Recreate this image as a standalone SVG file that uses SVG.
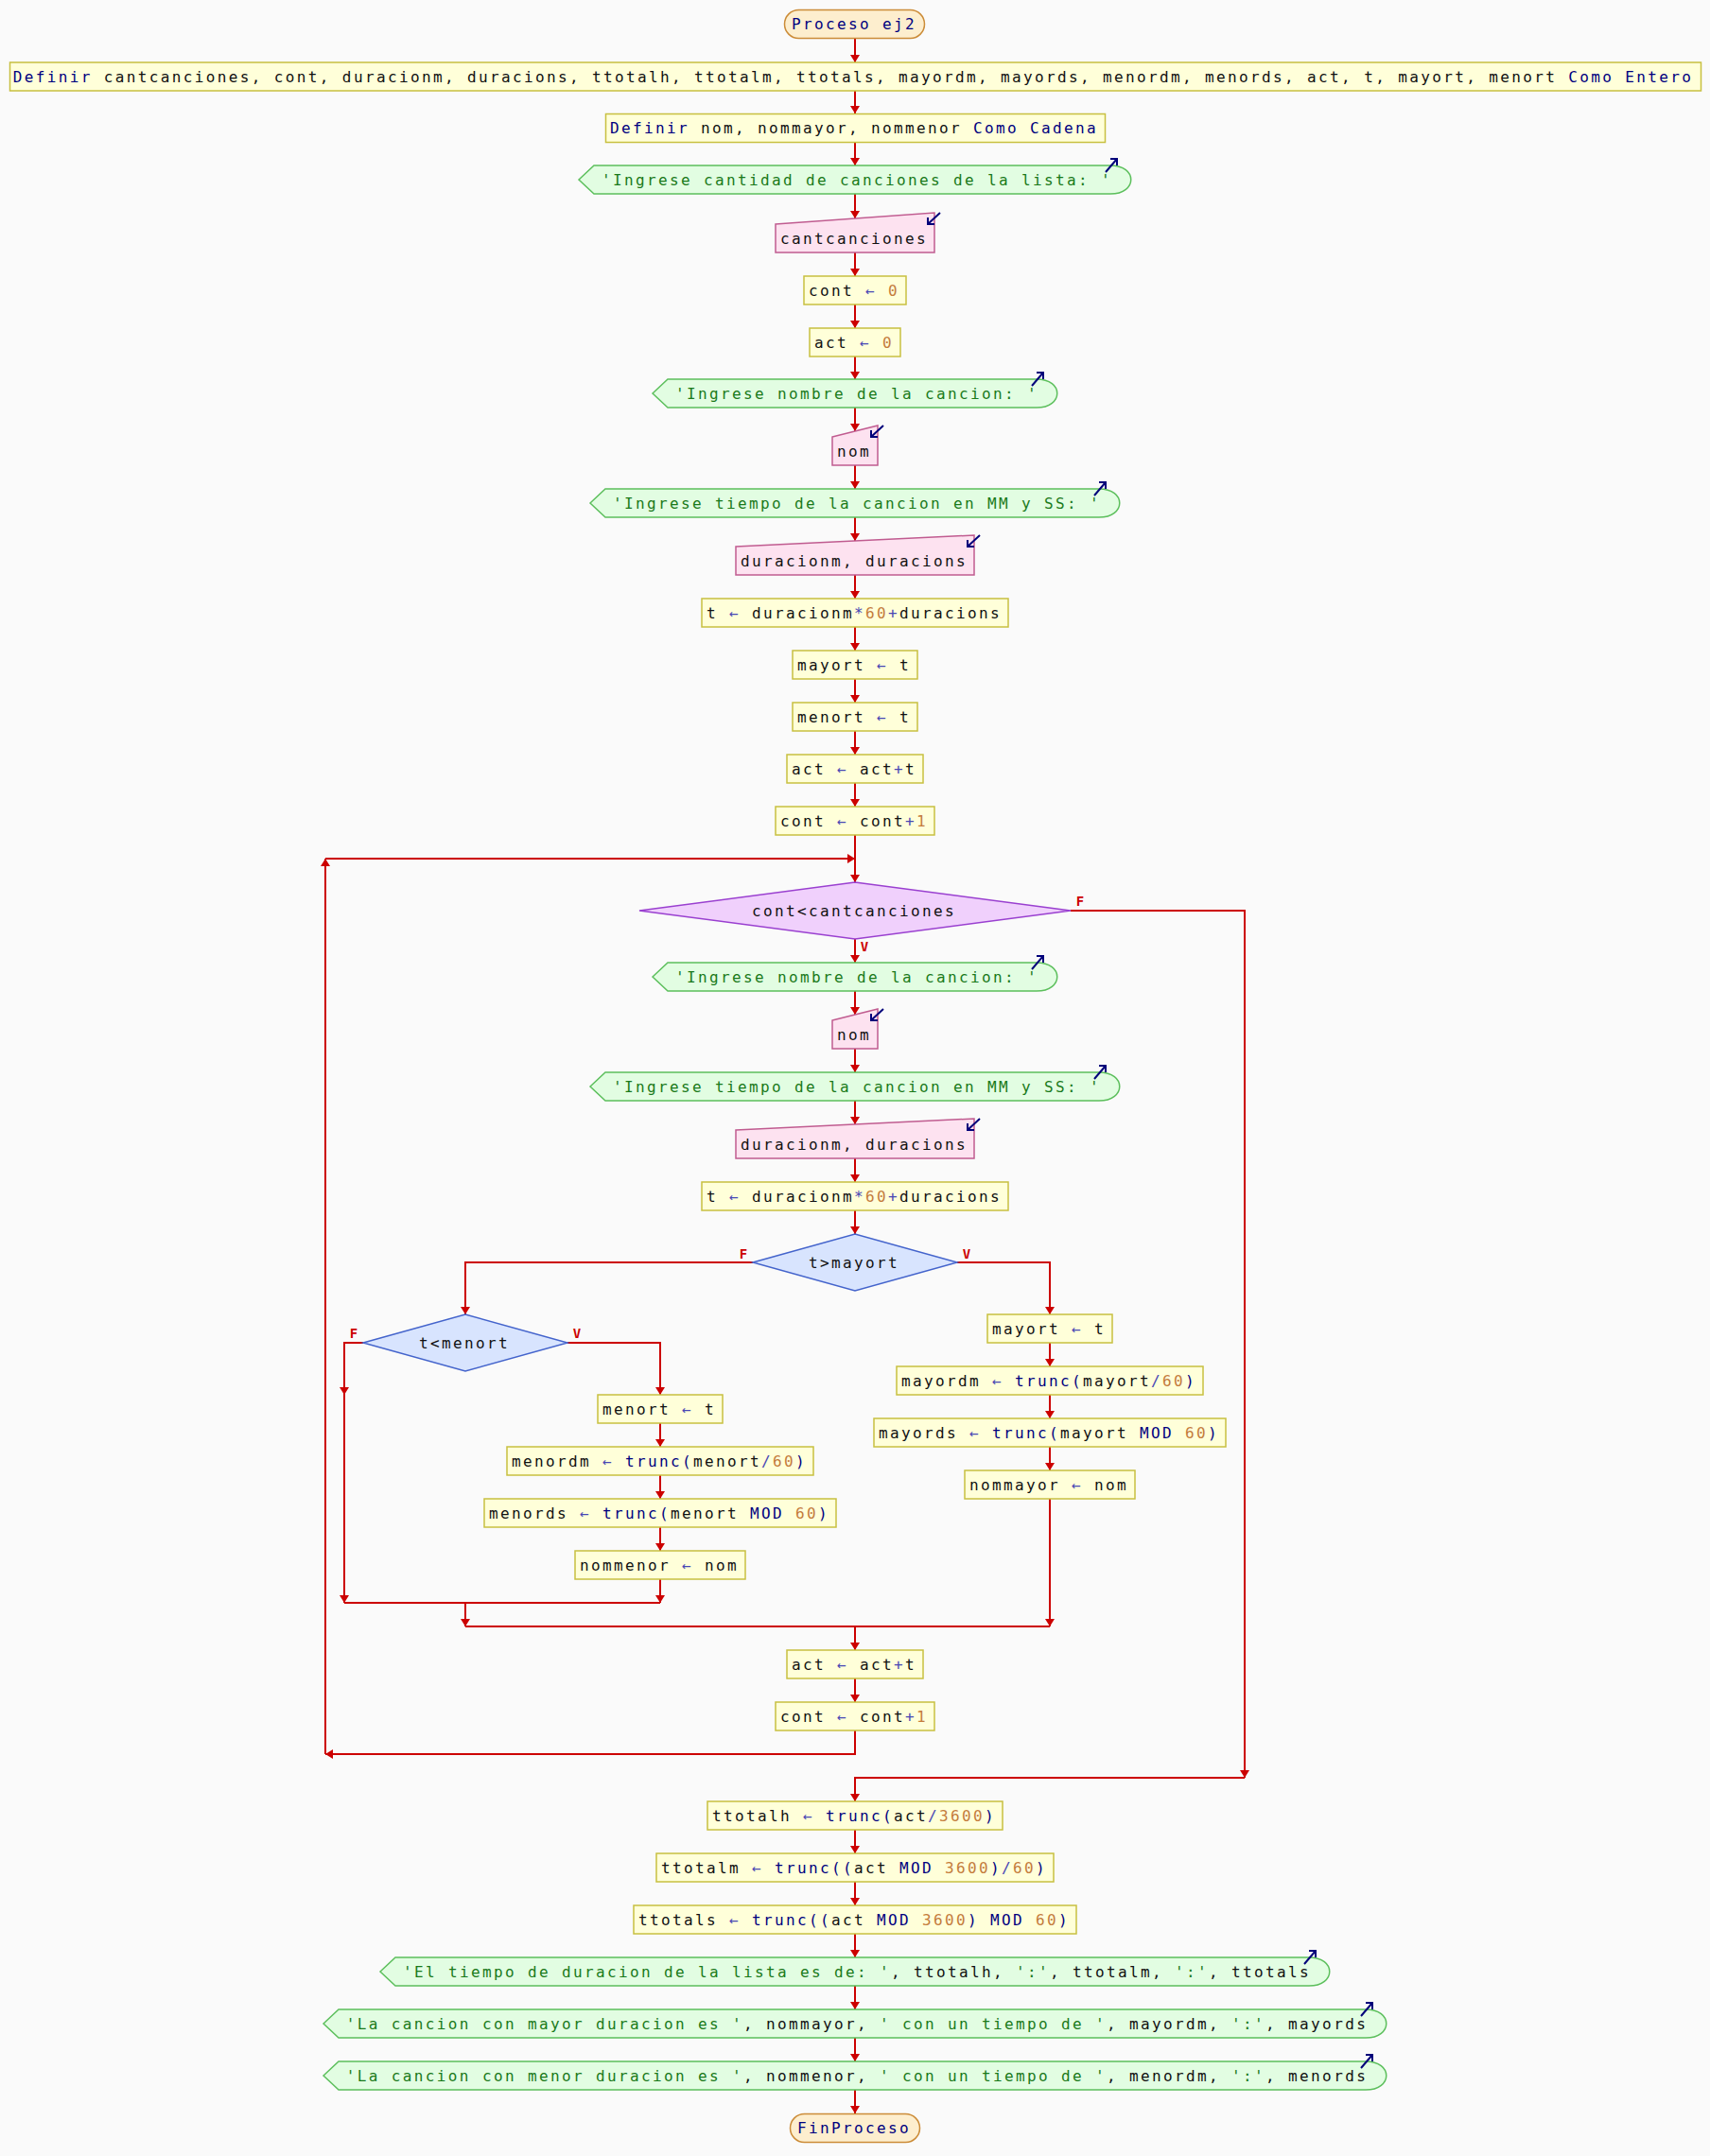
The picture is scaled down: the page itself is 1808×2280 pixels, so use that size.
<svg xmlns="http://www.w3.org/2000/svg" width="1808" height="2280" viewBox="0 0 1808 2280">
<defs>
<style>
.bg{fill:#fafafa}
.t{font-family:"DejaVu Sans Mono","Liberation Mono",monospace;font-size:16px;letter-spacing:2.37px;text-anchor:middle;fill:#111}
.k{fill:#00007f}
.o{fill:#4848b4}
.n{fill:#c47c3c}
.s{fill:#1a7a1a}
.proc{fill:#ffffd9;stroke:#c8c040;stroke-width:1.5}
.out{fill:#e2fde2;stroke:#5cbf5c;stroke-width:1.5}
.inp{fill:#fde2f0;stroke:#c05c90;stroke-width:1.5}
.loop{fill:#f0d0fc;stroke:#9a40d0;stroke-width:1.5}
.cond{fill:#d8e4fe;stroke:#4464cc;stroke-width:1.5}
.term{fill:#fdeece;stroke:#cc8c38;stroke-width:1.5}
.ln{fill:none;stroke:#cc0000;stroke-width:2}
.ic{fill:none;stroke:#00007a;stroke-width:2}
.lb{font-family:"DejaVu Sans Mono","Liberation Mono",monospace;font-size:14px;font-weight:bold;text-anchor:middle;fill:#cc0000}
</style>
<marker id="ah" viewBox="0 0 8 10" refX="8" refY="5" markerWidth="8" markerHeight="10" markerUnits="userSpaceOnUse" orient="auto">
<path d="M0,0 L8,5 L0,10 z" fill="#cc0000"/>
</marker>
</defs>
<rect class="bg" x="0" y="0" width="1808" height="2280"/>

<!-- connectors -->
<g id="connectors" class="ln" marker-end="url(#ah)">
<path d="M904,41 V66"/>
<path d="M904,96 V120"/>
<path d="M904,150 V175"/>
<path d="M904,205 V231"/>
<path d="M904,267 V292"/>
<path d="M904,322 V347"/>
<path d="M904,377 V401"/>
<path d="M904,431 V456"/>
<path d="M904,492 V517"/>
<path d="M904,547 V572"/>
<path d="M904,608 V633"/>
<path d="M904,663 V688"/>
<path d="M904,718 V743"/>
<path d="M904,773 V798"/>
<path d="M904,828 V853"/>
<path d="M904,883 V933"/>
<path d="M904,993 V1018"/>
<path d="M904,1048 V1073"/>
<path d="M904,1109 V1134"/>
<path d="M904,1164 V1189"/>
<path d="M904,1225 V1250"/>
<path d="M904,1280 V1305"/>
<path d="M1012,1335 H1110 V1390"/>
<path d="M1110,1420 V1445"/>
<path d="M1110,1475 V1500"/>
<path d="M1110,1530 V1555"/>
<path d="M1110,1585 V1720"/>
<path d="M796,1335 H492 V1390"/>
<path d="M600,1420 H698 V1475"/>
<path d="M698,1505 V1530"/>
<path d="M698,1560 V1585"/>
<path d="M698,1615 V1640"/>
<path d="M698,1670 V1695"/>
<path d="M384,1420 H364 V1475"/>
<path d="M364,1475 V1695"/>
<path d="M364,1695 H698" marker-end="none"/>
<path d="M492,1695 V1720"/>
<path d="M492,1720 H1110" marker-end="none"/>
<path d="M904,1720 V1745"/>
<path d="M904,1775 V1800"/>
<path d="M904,1830 V1855 H344"/>
<path d="M344,1855 V908"/>
<path d="M344,908 H904"/>
<path d="M1132,963 H1316 V1880"/>
<path d="M1316,1880 H904 V1905"/>
<path d="M904,1935 V1960"/>
<path d="M904,1990 V2015"/>
<path d="M904,2045 V2070"/>
<path d="M904,2100 V2125"/>
<path d="M904,2155 V2180"/>
<path d="M904,2210 V2235"/>
</g>
<g id="branch-labels">
<text class="lb" x="1142" y="958">F</text>
<text class="lb" x="914" y="1006">V</text>
<text class="lb" x="786" y="1331">F</text>
<text class="lb" x="1022" y="1331">V</text>
<text class="lb" x="374" y="1415">F</text>
<text class="lb" x="610" y="1415">V</text>
</g>

<!-- nodes -->
<g id="inicio">
<rect class="term" x="829.5" y="10.5" width="148" height="30" rx="15"/>
<text class="t k" x="903" y="31">Proceso ej2</text>
</g>
<g id="definir1">
<rect class="proc" x="10.5" y="66" width="1788" height="30"/>
<text class="t" x="902" y="86.5"><tspan class="k">Definir</tspan> cantcanciones, cont, duracionm, duracions, ttotalh, ttotalm, ttotals, mayordm, mayords, menordm, menords, act, t, mayort, menort <tspan class="k">Como Entero</tspan></text>
</g>
<g id="definir2">
<rect class="proc" x="640.5" y="120.5" width="528" height="30"/>
<text class="t" x="903" y="141"><tspan class="k">Definir</tspan> nom, nommayor, nommenor <tspan class="k">Como Cadena</tspan></text>
</g>
<g id="escribir1">
<path class="out" d="M612,190 L628,175 L1174,175 C1203,175 1203,205 1174,205 L628,205 Z"/>
<text class="t s" x="906" y="195.5">'Ingrese cantidad de canciones de la lista: '</text>
<path class="ic" d="M1169,182 L1181,168 M1174,168 H1181 V175"/>
</g>
<g id="leer1">
<polygon class="inp" points="820,237 988,225 988,267 820,267"/>
<text class="t" x="903" y="257.5">cantcanciones</text>
<path class="ic" d="M994,225 L981,237 M981,230 V237 H988"/>
</g>
<g id="asig-cont0">
<rect class="proc" x="850" y="292" width="108" height="30"/>
<text class="t" x="903" y="312.5">cont <tspan class="o">←</tspan> <tspan class="n">0</tspan></text>
</g>
<g id="asig-act0">
<rect class="proc" x="856" y="347" width="96" height="30"/>
<text class="t" x="903" y="367.5">act <tspan class="o">←</tspan> <tspan class="n">0</tspan></text>
</g>
<g id="escribir2">
<path class="out" d="M690,416 L706,401 L1096,401 C1125,401 1125,431 1096,431 L706,431 Z"/>
<text class="t s" x="906" y="421.5">'Ingrese nombre de la cancion: '</text>
<path class="ic" d="M1091,408 L1103,394 M1096,394 H1103 V401"/>
</g>
<g id="leer2">
<polygon class="inp" points="880,462 928,450 928,492 880,492"/>
<text class="t" x="903" y="482.5">nom</text>
<path class="ic" d="M934,450 L921,462 M921,455 V462 H928"/>
</g>
<g id="escribir3">
<path class="out" d="M624,532 L640,517 L1162,517 C1191,517 1191,547 1162,547 L640,547 Z"/>
<text class="t s" x="906" y="537.5">'Ingrese tiempo de la cancion en MM y SS: '</text>
<path class="ic" d="M1157,524 L1169,510 M1162,510 H1169 V517"/>
</g>
<g id="leer3">
<polygon class="inp" points="778,578 1030,566 1030,608 778,608"/>
<text class="t" x="903" y="598.5">duracionm, duracions</text>
<path class="ic" d="M1036,566 L1023,578 M1023,571 V578 H1030"/>
</g>
<g id="asig-t1">
<rect class="proc" x="742" y="633" width="324" height="30"/>
<text class="t" x="903" y="653.5">t <tspan class="o">←</tspan> duracionm<tspan class="o">*</tspan><tspan class="n">60</tspan><tspan class="o">+</tspan>duracions</text>
</g>
<g id="asig-mayort1">
<rect class="proc" x="838" y="688" width="132" height="30"/>
<text class="t" x="903" y="708.5">mayort <tspan class="o">←</tspan> t</text>
</g>
<g id="asig-menort1">
<rect class="proc" x="838" y="743" width="132" height="30"/>
<text class="t" x="903" y="763.5">menort <tspan class="o">←</tspan> t</text>
</g>
<g id="asig-act1">
<rect class="proc" x="832" y="798" width="144" height="30"/>
<text class="t" x="903" y="818.5">act <tspan class="o">←</tspan> act<tspan class="o">+</tspan>t</text>
</g>
<g id="asig-cont1">
<rect class="proc" x="820" y="853" width="168" height="30"/>
<text class="t" x="903" y="873.5">cont <tspan class="o">←</tspan> cont<tspan class="o">+</tspan><tspan class="n">1</tspan></text>
</g>
<g id="mientras">
<polygon class="loop" points="676,963 904,933 1132,963 904,993"/>
<text class="t" x="903" y="968.5">cont&lt;cantcanciones</text>
</g>
<g id="escribir4">
<path class="out" d="M690,1033 L706,1018 L1096,1018 C1125,1018 1125,1048 1096,1048 L706,1048 Z"/>
<text class="t s" x="906" y="1038.5">'Ingrese nombre de la cancion: '</text>
<path class="ic" d="M1091,1025 L1103,1011 M1096,1011 H1103 V1018"/>
</g>
<g id="leer4">
<polygon class="inp" points="880,1079 928,1067 928,1109 880,1109"/>
<text class="t" x="903" y="1099.5">nom</text>
<path class="ic" d="M934,1067 L921,1079 M921,1072 V1079 H928"/>
</g>
<g id="escribir5">
<path class="out" d="M624,1149 L640,1134 L1162,1134 C1191,1134 1191,1164 1162,1164 L640,1164 Z"/>
<text class="t s" x="906" y="1154.5">'Ingrese tiempo de la cancion en MM y SS: '</text>
<path class="ic" d="M1157,1141 L1169,1127 M1162,1127 H1169 V1134"/>
</g>
<g id="leer5">
<polygon class="inp" points="778,1195 1030,1183 1030,1225 778,1225"/>
<text class="t" x="903" y="1215.5">duracionm, duracions</text>
<path class="ic" d="M1036,1183 L1023,1195 M1023,1188 V1195 H1030"/>
</g>
<g id="asig-t2">
<rect class="proc" x="742" y="1250" width="324" height="30"/>
<text class="t" x="903" y="1270.5">t <tspan class="o">←</tspan> duracionm<tspan class="o">*</tspan><tspan class="n">60</tspan><tspan class="o">+</tspan>duracions</text>
</g>
<g id="si-mayor">
<polygon class="cond" points="796,1335 904,1305 1012,1335 904,1365"/>
<text class="t" x="903" y="1340.5">t&gt;mayort</text>
</g>
<g id="asig-mayort2">
<rect class="proc" x="1044" y="1390" width="132" height="30"/>
<text class="t" x="1109" y="1410.5">mayort <tspan class="o">←</tspan> t</text>
</g>
<g id="asig-mayordm">
<rect class="proc" x="948" y="1445" width="324" height="30"/>
<text class="t" x="1109" y="1465.5">mayordm <tspan class="o">←</tspan> <tspan class="k">trunc(</tspan>mayort<tspan class="o">/</tspan><tspan class="n">60</tspan><tspan class="k">)</tspan></text>
</g>
<g id="asig-mayords">
<rect class="proc" x="924" y="1500" width="372" height="30"/>
<text class="t" x="1109" y="1520.5">mayords <tspan class="o">←</tspan> <tspan class="k">trunc(</tspan>mayort <tspan class="k">MOD</tspan> <tspan class="n">60</tspan><tspan class="k">)</tspan></text>
</g>
<g id="asig-nommayor">
<rect class="proc" x="1020" y="1555" width="180" height="30"/>
<text class="t" x="1109" y="1575.5">nommayor <tspan class="o">←</tspan> nom</text>
</g>
<g id="si-menor">
<polygon class="cond" points="384,1420 492,1390 600,1420 492,1450"/>
<text class="t" x="491" y="1425.5">t&lt;menort</text>
</g>
<g id="asig-menort2">
<rect class="proc" x="632" y="1475" width="132" height="30"/>
<text class="t" x="697" y="1495.5">menort <tspan class="o">←</tspan> t</text>
</g>
<g id="asig-menordm">
<rect class="proc" x="536" y="1530" width="324" height="30"/>
<text class="t" x="697" y="1550.5">menordm <tspan class="o">←</tspan> <tspan class="k">trunc(</tspan>menort<tspan class="o">/</tspan><tspan class="n">60</tspan><tspan class="k">)</tspan></text>
</g>
<g id="asig-menords">
<rect class="proc" x="512" y="1585" width="372" height="30"/>
<text class="t" x="697" y="1605.5">menords <tspan class="o">←</tspan> <tspan class="k">trunc(</tspan>menort <tspan class="k">MOD</tspan> <tspan class="n">60</tspan><tspan class="k">)</tspan></text>
</g>
<g id="asig-nommenor">
<rect class="proc" x="608" y="1640" width="180" height="30"/>
<text class="t" x="697" y="1660.5">nommenor <tspan class="o">←</tspan> nom</text>
</g>
<g id="asig-act2">
<rect class="proc" x="832" y="1745" width="144" height="30"/>
<text class="t" x="903" y="1765.5">act <tspan class="o">←</tspan> act<tspan class="o">+</tspan>t</text>
</g>
<g id="asig-cont2">
<rect class="proc" x="820" y="1800" width="168" height="30"/>
<text class="t" x="903" y="1820.5">cont <tspan class="o">←</tspan> cont<tspan class="o">+</tspan><tspan class="n">1</tspan></text>
</g>
<g id="asig-ttotalh">
<rect class="proc" x="748" y="1905" width="312" height="30"/>
<text class="t" x="903" y="1925.5">ttotalh <tspan class="o">←</tspan> <tspan class="k">trunc(</tspan>act<tspan class="o">/</tspan><tspan class="n">3600</tspan><tspan class="k">)</tspan></text>
</g>
<g id="asig-ttotalm">
<rect class="proc" x="694" y="1960" width="420" height="30"/>
<text class="t" x="903" y="1980.5">ttotalm <tspan class="o">←</tspan> <tspan class="k">trunc((</tspan>act <tspan class="k">MOD</tspan> <tspan class="n">3600</tspan><tspan class="k">)</tspan><tspan class="o">/</tspan><tspan class="n">60</tspan><tspan class="k">)</tspan></text>
</g>
<g id="asig-ttotals">
<rect class="proc" x="670" y="2015" width="468" height="30"/>
<text class="t" x="903" y="2035.5">ttotals <tspan class="o">←</tspan> <tspan class="k">trunc((</tspan>act <tspan class="k">MOD</tspan> <tspan class="n">3600</tspan><tspan class="k">)</tspan> <tspan class="k">MOD</tspan> <tspan class="n">60</tspan><tspan class="k">)</tspan></text>
</g>
<g id="escribir6">
<path class="out" d="M402,2085 L418,2070 L1384,2070 C1413,2070 1413,2100 1384,2100 L418,2100 Z"/>
<text class="t" x="906" y="2090.5"><tspan class="s">'El tiempo de duracion de la lista es de: '</tspan>, ttotalh, <tspan class="s">':'</tspan>, ttotalm, <tspan class="s">':'</tspan>, ttotals</text>
<path class="ic" d="M1379,2077 L1391,2063 M1384,2063 H1391 V2070"/>
</g>
<g id="escribir7">
<path class="out" d="M342,2140 L358,2125 L1444,2125 C1473,2125 1473,2155 1444,2155 L358,2155 Z"/>
<text class="t" x="906" y="2145.5"><tspan class="s">'La cancion con mayor duracion es '</tspan>, nommayor, <tspan class="s">' con un tiempo de '</tspan>, mayordm, <tspan class="s">':'</tspan>, mayords</text>
<path class="ic" d="M1439,2132 L1451,2118 M1444,2118 H1451 V2125"/>
</g>
<g id="escribir8">
<path class="out" d="M342,2195 L358,2180 L1444,2180 C1473,2180 1473,2210 1444,2210 L358,2210 Z"/>
<text class="t" x="906" y="2200.5"><tspan class="s">'La cancion con menor duracion es '</tspan>, nommenor, <tspan class="s">' con un tiempo de '</tspan>, menordm, <tspan class="s">':'</tspan>, menords</text>
<path class="ic" d="M1439,2187 L1451,2173 M1444,2173 H1451 V2180"/>
</g>
<g id="fin">
<rect class="term" x="835.5" y="2235.5" width="137" height="30" rx="15"/>
<text class="t k" x="903" y="2256">FinProceso</text>
</g>
</svg>
